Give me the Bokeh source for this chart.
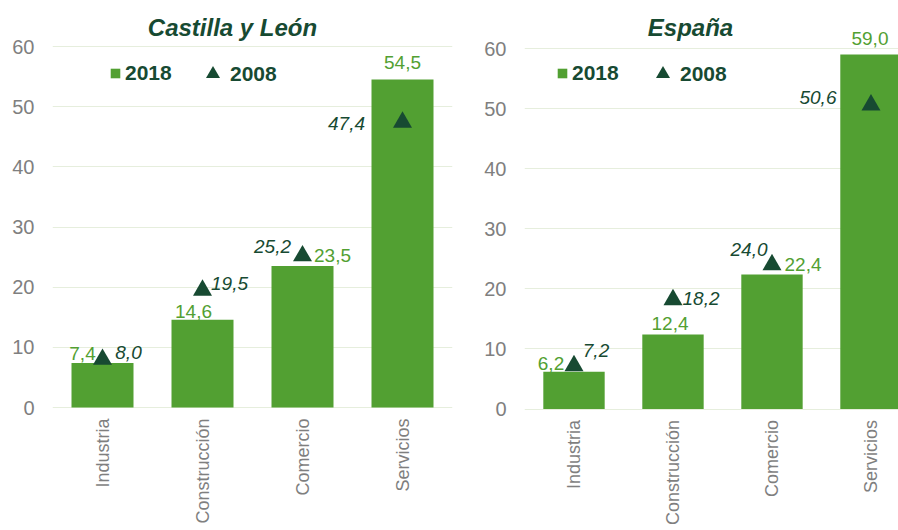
import math
from bokeh.plotting import figure
from bokeh.models import (Range1d, FixedTicker, ColumnDataSource, Legend,
                          LegendItem, Label)
from bokeh.core.properties import value
from bokeh.layouts import row
from bokeh.embed import file_html
from bokeh.resources import INLINE

# ---- data ----
categories = ["Industria", "Construcción", "Comercio", "Servicios"]
titles = ["Castilla y León", "España"]
cyl_2018 = [7.4, 14.6, 23.5, 54.5]
cyl_2008 = [8.0, 19.5, 25.2, 47.4]
esp_2018 = [6.2, 12.4, 22.4, 59.0]
esp_2008 = [7.2, 18.2, 24.0, 50.6]
y_ticks = [0, 10, 20, 30, 40, 50, 60]
series_names = ["2018", "2008"]

# ---- style ----
BAR = "#52a032"
DARK = "#174a32"
GRAY = "#7f7f7f"
GRID = "#e6eedd"
FONT = "Liberation Sans"
H = 530

# label offsets (screen px) -- style only
cyl_off18 = ([-20, -9, 30, 0], [-9, -8, -11, -17])
cyl_off08 = ([26, 27, -30, -56], [-7, -7, -9, 1])
esp_off18 = ([-23, -3, 31, -1], [-8, -11, -10, -16])
esp_off08 = ([22, 28, -23, -53], [-15, -1, -15, -7])


def fmt(v):
    return f"{v:.1f}".replace(".", ",")


def make_panel(title, v18, v08, off18, off08, width, x_end, bl, br,
               y60_px, y0_px, title_pos, leg1_loc, leg2_loc):
    # vertical layout: frame spans whole figure height; 0..60 maps to
    # pixel rows y0_px..y60_px
    ppu = (y0_px - y60_px) / 60.0
    y_top = 60 + y60_px / ppu
    y_bot = -(H - y0_px) / ppu
    p = figure(width=width, height=H, x_range=Range1d(-0.5, x_end),
               y_range=Range1d(y_bot, y_top), output_backend="svg",
               toolbar_location=None, min_border_left=bl,
               min_border_right=br, min_border_top=0, min_border_bottom=0)
    p.title.visible = False
    p.outline_line_color = None
    p.background_fill_color = "white"
    p.border_fill_color = "white"

    xs = list(range(len(categories)))
    src = ColumnDataSource(dict(
        x=xs, v18=v18, v08=v08, base=[0] * len(xs), cat=categories,
        l18=[fmt(v) for v in v18], l08=[fmt(v) for v in v08],
        dx18=off18[0], dy18=off18[1], dx08=off08[0], dy08=off08[1],
    ))

    bars = p.vbar(x="x", top="v18", width=0.62, source=src,
                  fill_color=BAR, line_color=None)
    tri = p.scatter(x="x", y="v08", marker="triangle", size=19, source=src,
                    fill_color=DARK, line_color=None)

    p.text(x="x", y="v18", text="l18", x_offset="dx18", y_offset="dy18",
           source=src, text_align="center", text_baseline="middle",
           text_font_size="19px", text_color=BAR, text_font=value(FONT))
    p.text(x="x", y="v08", text="l08", x_offset="dx08", y_offset="dy08",
           source=src, text_align="center", text_baseline="middle",
           text_font_size="19px", text_color=DARK, text_font_style="italic",
           text_font=value(FONT))
    # category labels, rotated, hanging below the zero line
    p.text(x="x", y="base", text="cat", y_offset=11, source=src,
           angle=math.pi / 2, text_align="right", text_baseline="middle",
           text_font_size="18px", text_color=GRAY, text_font=value(FONT))

    p.add_layout(Label(x=title_pos[0], y=title_pos[1], x_units="screen",
                       y_units="screen", text=title, text_align="center",
                       text_baseline="middle", text_font=FONT,
                       text_font_size="24px", text_font_style="bold italic",
                       text_color=DARK))

    p.xaxis.visible = False
    p.xgrid.grid_line_color = None

    p.yaxis.ticker = FixedTicker(ticks=y_ticks)
    p.yaxis.major_label_text_font = FONT
    p.yaxis.major_label_text_font_size = "20px"
    p.yaxis.major_label_text_color = GRAY
    p.yaxis.major_label_standoff = 12
    p.yaxis.axis_line_color = None
    p.yaxis.major_tick_line_color = None
    p.yaxis.minor_tick_line_color = None

    p.ygrid.ticker = FixedTicker(ticks=y_ticks)
    p.ygrid.grid_line_color = GRID
    p.ygrid.grid_line_width = 1

    common = dict(orientation="horizontal", padding=0, margin=0, spacing=0,
                  border_line_color=None, background_fill_alpha=0,
                  label_text_font=FONT, label_text_font_size="21px",
                  label_text_font_style="bold", label_text_color=DARK,
                  label_height=12, label_width=10)
    leg1 = Legend(items=[LegendItem(label=series_names[0], renderers=[bars])],
                  location=leg1_loc, glyph_width=12, glyph_height=12,
                  label_standoff=4, **common)
    leg2 = Legend(items=[LegendItem(label=series_names[1], renderers=[tri])],
                  location=leg2_loc, glyph_width=35, glyph_height=35,
                  label_standoff=0, **common)
    p.add_layout(leg1)
    p.add_layout(leg2)
    return p


p1 = make_panel(titles[0], cyl_2018, cyl_2008, cyl_off18, cyl_off08,
                width=455, x_end=3.5, bl=52, br=3, y60_px=46, y0_px=407,
                title_pos=(180, H - 27), leg1_loc=(57, 445),
                leg2_loc=(143, 439))
p2 = make_panel(titles[1], esp_2018, esp_2008, esp_off18, esp_off08,
                width=443, x_end=3.278, bl=69, br=0, y60_px=48, y0_px=408.5,
                title_pos=(166, H - 27), leg1_loc=(32, 445),
                leg2_loc=(121, 439))

layout = row(p1, p2)
open("out.html", "w").write(file_html(layout, INLINE))
